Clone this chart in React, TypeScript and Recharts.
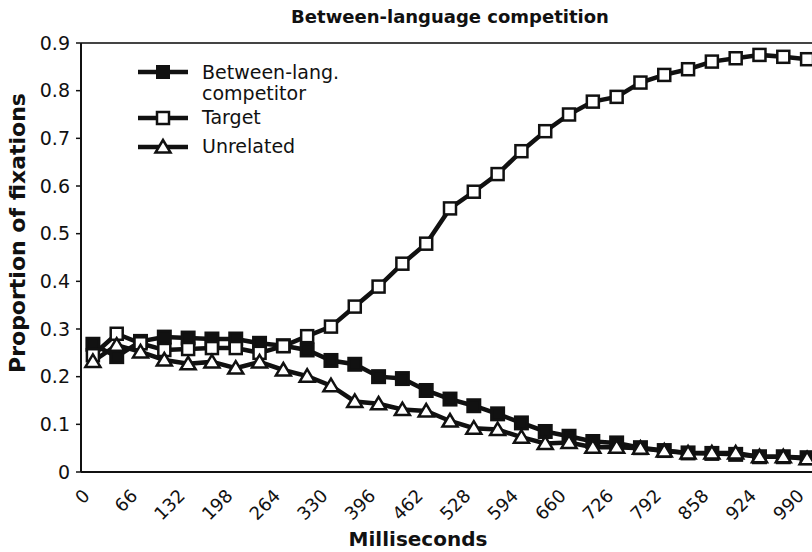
import { LineChart, Line, XAxis, YAxis, ReferenceLine, Legend } from "recharts";

// time bins (ms), one per category
const MS = [
    0, 33, 66, 99, 132, 165, 198, 231, 264, 297, 330, 363, 396, 429, 462, 495,
    528, 561, 594, 627, 660, 693, 726, 759, 792, 825, 858, 891, 924, 957, 990,
];
const COMPETITOR = [
    0.268, 0.242, 0.274, 0.283, 0.281, 0.279, 0.279, 0.27, 0.265, 0.256, 0.234,
    0.226, 0.2, 0.196, 0.171, 0.153, 0.139, 0.122, 0.103, 0.085, 0.075, 0.064,
    0.061, 0.051, 0.045, 0.04, 0.039, 0.037, 0.032, 0.032, 0.03,
];
const TARGET = [
    0.245, 0.29, 0.27, 0.256, 0.258, 0.26, 0.26, 0.25, 0.264, 0.285, 0.305,
    0.347, 0.389, 0.437, 0.479, 0.553, 0.588, 0.625, 0.673, 0.715, 0.75, 0.777,
    0.787, 0.817, 0.833, 0.845, 0.861, 0.868, 0.875, 0.871, 0.866,
];
const UNRELATED = [
    0.232, 0.266, 0.252, 0.235, 0.227, 0.231, 0.218, 0.231, 0.214, 0.201, 0.181,
    0.148, 0.143, 0.131, 0.128, 0.107, 0.092, 0.089, 0.073, 0.06, 0.062, 0.052,
    0.052, 0.05, 0.044, 0.04, 0.04, 0.04, 0.032, 0.032, 0.028,
];
const X_LABELS = [0, 66, 132, 198, 264, 330, 396, 462, 528, 594, 660, 726, 792, 858, 924, 990];
const Y_TICKS = [0, 0.1, 0.2, 0.3, 0.4, 0.5, 0.6, 0.7, 0.8, 0.9];

const HALF_BIN = 16.5;
const X_BOUNDS = [...MS.map((m) => m - HALF_BIN), MS[MS.length - 1] + HALF_BIN];

const data = MS.map((ms, i) => ({
    ms,
    competitor: COMPETITOR[i],
    target: TARGET[i],
    unrelated: UNRELATED[i],
}));

const FONT = "'DejaVu Sans', Verdana, sans-serif";
const INK = "#111";

const FilledSquare = (props: any) => {
    const { cx, cy, index } = props;
    if (cx == null || cy == null) return null;
    return <rect key={`f${index}`} x={cx - 6} y={cy - 6} width={12} height={12} fill={INK} stroke={INK} strokeWidth={3} />;
};

const OpenSquare = (props: any) => {
    const { cx, cy, index } = props;
    if (cx == null || cy == null) return null;
    return <rect key={`o${index}`} x={cx - 6} y={cy - 6} width={12} height={12} fill="#fff" stroke={INK} strokeWidth={2.5} />;
};

const OpenTriangle = (props: any) => {
    const { cx, cy, index } = props;
    if (cx == null || cy == null) return null;
    return (
        <polygon
            key={`t${index}`}
            points={`${cx},${cy - 7} ${cx - 7.5},${cy + 5.5} ${cx + 7.5},${cy + 5.5}`}
            fill="#fff"
            stroke={INK}
            strokeWidth={2.5}
        />
    );
};

const RotatedTick = ({ x, y, payload }: any) => (
    <text
        x={x - 2}
        y={y + 24}
        transform={`rotate(-45 ${x - 2} ${y + 24})`}
        textAnchor="end"
        fontFamily={FONT}
        fontSize={18}
        fill={INK}
    >
        {payload.value}
    </text>
);

function LegendIcon({ kind }: { kind: "filled" | "square" | "triangle" }) {
    return (
        <svg width={54} height={20} style={{ display: "block" }}>
            <line x1={2} y1={10} x2={52} y2={10} stroke={INK} strokeWidth={4.5} />
            {kind === "filled" && <rect x={21} y={4} width={12} height={12} fill={INK} stroke={INK} strokeWidth={2} />}
            {kind === "square" && <rect x={21} y={4} width={12} height={12} fill="#fff" stroke={INK} strokeWidth={2.5} />}
            {kind === "triangle" && (
                <polygon points="27,3 19.5,15.5 34.5,15.5" fill="#fff" stroke={INK} strokeWidth={2.5} />
            )}
        </svg>
    );
}

function ChartLegend() {
    const text = { fontFamily: FONT, fontSize: 19, color: INK, lineHeight: "21px", marginLeft: 12 };
    return (
        <div style={{ display: "flex", flexDirection: "column" }}>
            <div style={{ display: "flex", alignItems: "flex-start" }}>
                <LegendIcon kind="filled" />
                <div style={text}>
                    Between-lang.
                    <br />
                    competitor
                </div>
            </div>
            <div style={{ display: "flex", alignItems: "center", marginTop: 3 }}>
                <LegendIcon kind="square" />
                <div style={text}>Target</div>
            </div>
            <div style={{ display: "flex", alignItems: "center", marginTop: 8 }}>
                <LegendIcon kind="triangle" />
                <div style={text}>Unrelated</div>
            </div>
        </div>
    );
}

export default function App() {
    return (
        <div
            style={{
                position: "fixed",
                top: 0,
                left: 0,
                width: 812,
                height: 552,
                overflow: "hidden",
                background: "#fff",
            }}
        >
            <div
                style={{
                    position: "absolute",
                    left: 150,
                    top: 6,
                    width: 600,
                    textAlign: "center",
                    fontFamily: FONT,
                    fontWeight: "bold",
                    fontSize: 18,
                    color: INK,
                }}
            >
                Between-language competition
            </div>
            <div
                style={{
                    position: "absolute",
                    left: 17,
                    top: 233,
                    transform: "translate(-50%, -50%) rotate(-90deg)",
                    whiteSpace: "nowrap",
                    fontFamily: FONT,
                    fontWeight: "bold",
                    fontSize: 22,
                    color: INK,
                }}
            >
                Proportion of fixations
            </div>
            <div
                style={{
                    position: "absolute",
                    left: 418,
                    top: 539,
                    transform: "translate(-50%, -50%)",
                    whiteSpace: "nowrap",
                    fontFamily: FONT,
                    fontWeight: "bold",
                    fontSize: 20,
                    color: INK,
                }}
            >
                Milliseconds
            </div>

            <LineChart width={840} height={552} data={data} margin={{ top: 43, right: 21, left: 0, bottom: 0 }}>
                <XAxis
                    xAxisId="bins"
                    dataKey="ms"
                    type="number"
                    domain={[X_BOUNDS[0], X_BOUNDS[X_BOUNDS.length - 1]]}
                    ticks={X_BOUNDS}
                    tick={false}
                    tickSize={6}
                    height={1}
                    axisLine={{ stroke: INK, strokeWidth: 2 }}
                    tickLine={{ stroke: INK, strokeWidth: 1.5 }}
                />
                <XAxis
                    xAxisId="labels"
                    dataKey="ms"
                    type="number"
                    domain={[X_BOUNDS[0], X_BOUNDS[X_BOUNDS.length - 1]]}
                    ticks={X_LABELS}
                    interval={0}
                    tick={<RotatedTick />}
                    tickSize={0}
                    tickMargin={0}
                    height={79}
                    axisLine={false}
                    tickLine={false}
                />
                <YAxis
                    domain={[0, 0.9]}
                    ticks={Y_TICKS}
                    interval={0}
                    width={81}
                    tickSize={5}
                    tickMargin={6}
                    tickFormatter={(v: number) => String(Math.round(v * 10) / 10)}
                    tick={{ fontFamily: FONT, fontSize: 19, fill: INK }}
                    axisLine={{ stroke: INK, strokeWidth: 2 }}
                    tickLine={{ stroke: INK, strokeWidth: 1.5 }}
                />
                <ReferenceLine xAxisId="bins" y={0.9} stroke="#444" strokeWidth={2} />
                <Legend
                    layout="vertical"
                    align="center"
                    verticalAlign="middle"
                    content={() => <ChartLegend />}
                    wrapperStyle={{ left: 136, top: 62, width: 260, height: "auto" }}
                />
                <Line
                    xAxisId="bins"
                    dataKey="competitor"
                    name="Between-lang. competitor"
                    stroke={INK}
                    strokeWidth={4.5}
                    dot={FilledSquare}
                    isAnimationActive={false}
                />
                <Line
                    xAxisId="bins"
                    dataKey="target"
                    name="Target"
                    stroke={INK}
                    strokeWidth={4.5}
                    dot={OpenSquare}
                    isAnimationActive={false}
                />
                <Line
                    xAxisId="bins"
                    dataKey="unrelated"
                    name="Unrelated"
                    stroke={INK}
                    strokeWidth={4.5}
                    dot={OpenTriangle}
                    isAnimationActive={false}
                />
            </LineChart>
        </div>
    );
}
